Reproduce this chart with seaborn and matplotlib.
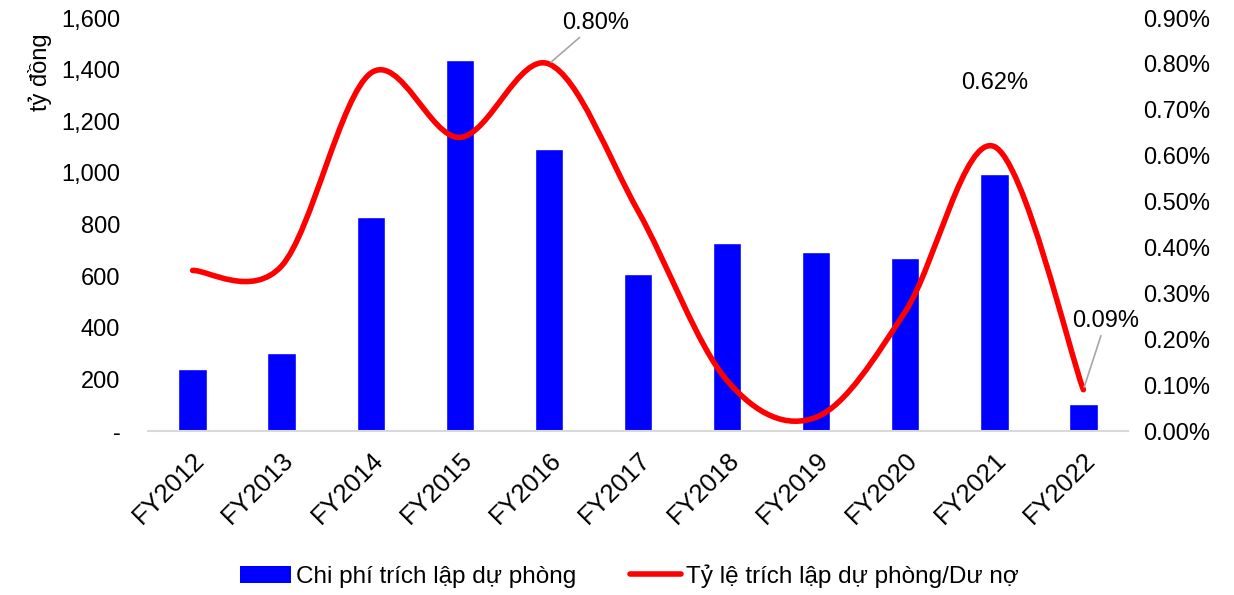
import numpy as np
import pandas as pd
import seaborn as sns
import matplotlib.pyplot as plt
from matplotlib.path import Path
from matplotlib.patches import PathPatch, Patch
from matplotlib.lines import Line2D
from matplotlib.ticker import FuncFormatter, MultipleLocator

# data
years = ["FY2012", "FY2013", "FY2014", "FY2015", "FY2016", "FY2017",
         "FY2018", "FY2019", "FY2020", "FY2021", "FY2022"]
provision_cost = [240, 302, 828, 1438, 1092, 607, 727, 692, 670, 995, 105]
provision_ratio = [0.35, 0.36, 0.78, 0.64, 0.80, 0.48, 0.11, 0.03, 0.26, 0.62, 0.09]

bar_label = "Chi phí trích lập dự phòng"
line_label = "Tỷ lệ trích lập dự phòng/Dư nợ"

sns.set_theme(style="white")
plt.rcParams['font.family'] = ['Liberation Sans', 'DejaVu Sans']
plt.rcParams['text.color'] = 'black'
plt.rcParams['xtick.color'] = 'black'
plt.rcParams['ytick.color'] = 'black'
plt.rcParams['axes.labelcolor'] = 'black'

FS = 17

df = pd.DataFrame({"year": years, "cost": provision_cost, "ratio": provision_ratio})

fig = plt.figure(figsize=(12.34, 5.95), dpi=100)
ax = fig.add_axes([0.12, 0.2756, 0.794, 0.694])

sns.barplot(data=df, x="year", y="cost", color="#0000FF", saturation=1,
            width=0.32, ax=ax)
ax.set_ylim(0, 1600)
ax.yaxis.set_major_locator(MultipleLocator(200))
ax.yaxis.set_major_formatter(FuncFormatter(lambda v, p: "-" if v == 0 else f"{v:,.0f}"))
ax.set_xlabel("")
ax.set_ylabel("tỷ đồng", fontsize=FS)
ax.yaxis.set_label_coords(-0.098, 0.87)
ax.tick_params(axis="y", labelsize=FS, length=0, pad=20)
ax.tick_params(axis="x", labelsize=18.5, length=0, pad=12)
for lbl in ax.get_xticklabels():
    lbl.set_rotation(45)
    lbl.set_ha("right")
    lbl.set_rotation_mode("anchor")
for s in ["top", "left", "right"]:
    ax.spines[s].set_visible(False)
ax.spines["bottom"].set_color("#D9D9D9")
ax.spines["bottom"].set_linewidth(1.5)

# right axis: smoothed line (Excel-style bezier through the points)
ax2 = ax.twinx()
ax2.set_ylim(0, 0.9)
ax2.yaxis.set_major_locator(MultipleLocator(0.1))
ax2.yaxis.set_major_formatter(FuncFormatter(lambda v, p: f"{v:.2f}%"))
ax2.tick_params(axis="y", labelsize=FS, length=0, pad=11)
for s in ax2.spines.values():
    s.set_visible(False)

xs = np.arange(len(years), dtype=float)
ys = np.array(provision_ratio)
verts = [(xs[0], ys[0])]
codes = [Path.MOVETO]
n = len(xs)
for i in range(n - 1):
    p0 = np.array([xs[max(i - 1, 0)], ys[max(i - 1, 0)]])
    p1 = np.array([xs[i], ys[i]])
    p2 = np.array([xs[i + 1], ys[i + 1]])
    p3 = np.array([xs[min(i + 2, n - 1)], ys[min(i + 2, n - 1)]])
    c1 = p1 + (p2 - p0) / 6
    c2 = p2 - (p3 - p1) / 6
    verts += [tuple(c1), tuple(c2), tuple(p2)]
    codes += [Path.CURVE4] * 3
ax2.add_patch(PathPatch(Path(verts, codes), facecolor="none", edgecolor="#FF0000",
                        lw=4, capstyle="round", joinstyle="round"))
ax2.set_xlim(ax.get_xlim())

# data labels
labels = {4: (4.53, 0.865), 9: (9.0, 0.735), 10: (10.25, 0.215)}
for i, (tx, ty) in labels.items():
    ax2.annotate(f"{provision_ratio[i]:.2f}%", xy=(xs[i], ys[i]), xytext=(tx, ty),
                 ha="center", va="bottom", fontsize=FS,
                 arrowprops=dict(arrowstyle="-", color="#A6A6A6", lw=1.2,
                                 shrinkA=0, shrinkB=2) if i != 9 else None)

handles = [Patch(facecolor="#0000FF", edgecolor="none"),
           Line2D([0], [0], color="#FF0000", lw=4, solid_capstyle="round")]
fig.legend(handles, [bar_label, line_label], loc="lower center",
           bbox_to_anchor=(0.51, -0.025), ncol=2, frameon=False, fontsize=17.5,
           columnspacing=2.2, handlelength=2.1, handletextpad=0.2)

fig.savefig("out.png", dpi=100)
